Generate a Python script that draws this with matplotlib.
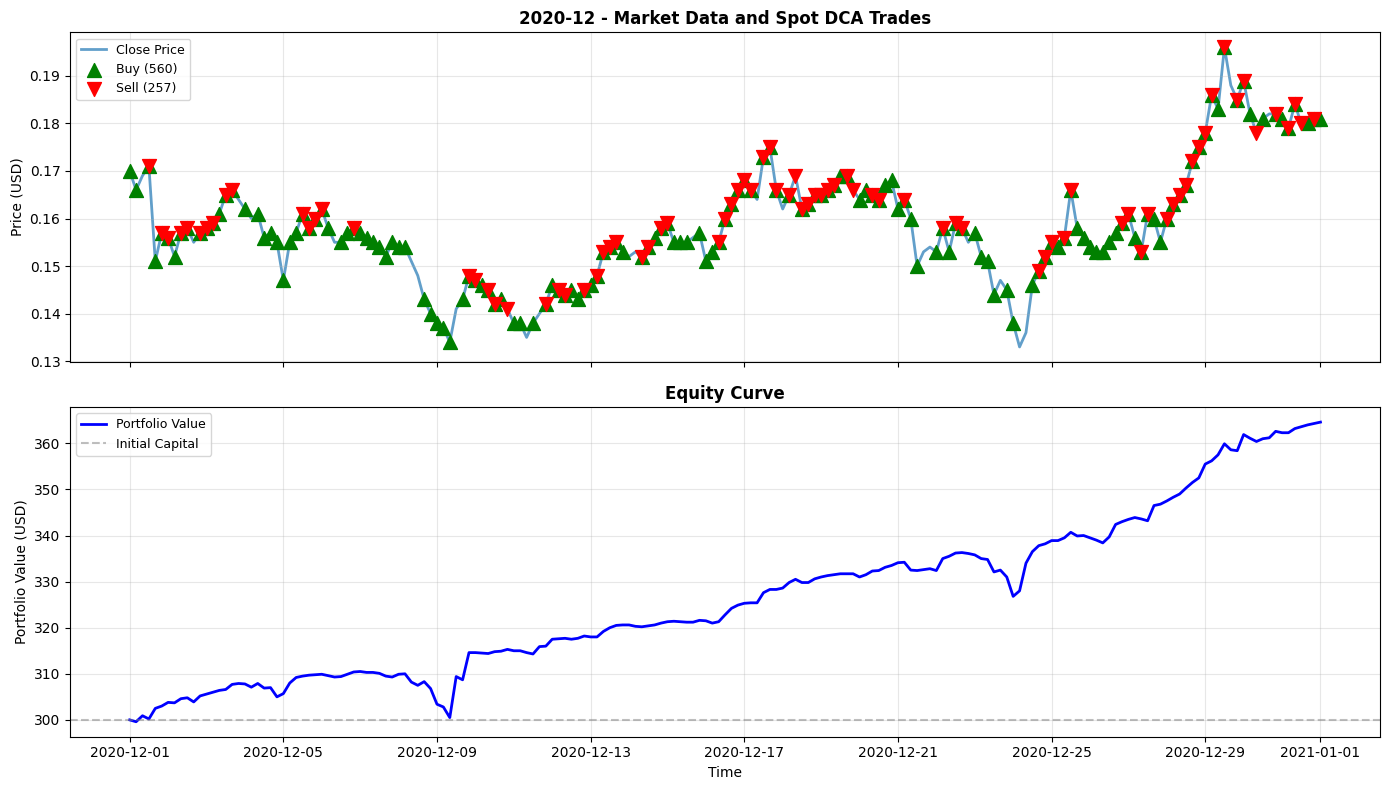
import matplotlib
matplotlib.use("Agg")
import matplotlib.pyplot as plt
import numpy as np
import pandas as pd

# ---- data (4-hourly samples) ----
start = "2020-12-01"
end = "2021-01-01"
freq = "4h"

close_price = [
    0.170, 0.166, 0.169, 0.171, 0.151, 0.157,
    0.156, 0.152, 0.157, 0.158, 0.155, 0.157,
    0.158, 0.159, 0.161, 0.165, 0.166, 0.164,
    0.162, 0.160, 0.161, 0.156, 0.157, 0.155,
    0.147, 0.155, 0.157, 0.161, 0.158, 0.160,
    0.162, 0.158, 0.155, 0.155, 0.157, 0.158,
    0.157, 0.156, 0.155, 0.154, 0.152, 0.155,
    0.154, 0.154, 0.151, 0.148, 0.143, 0.140,
    0.138, 0.137, 0.134, 0.141, 0.143, 0.148,
    0.147, 0.146, 0.145, 0.142, 0.143, 0.141,
    0.138, 0.138, 0.135, 0.138, 0.140, 0.142,
    0.146, 0.145, 0.144, 0.145, 0.143, 0.145,
    0.146, 0.148, 0.153, 0.154, 0.155, 0.153,
    0.152, 0.153, 0.152, 0.154, 0.156, 0.158,
    0.159, 0.155, 0.155, 0.155, 0.156, 0.157,
    0.151, 0.153, 0.155, 0.160, 0.163, 0.166,
    0.168, 0.166, 0.164, 0.173, 0.175, 0.166,
    0.162, 0.165, 0.169, 0.162, 0.163, 0.165,
    0.165, 0.166, 0.167, 0.169, 0.169, 0.166,
    0.164, 0.166, 0.165, 0.164, 0.167, 0.168,
    0.162, 0.164, 0.160, 0.150, 0.153, 0.154,
    0.153, 0.158, 0.153, 0.159, 0.158, 0.155,
    0.157, 0.152, 0.151, 0.144, 0.147, 0.145,
    0.138, 0.133, 0.136, 0.146, 0.149, 0.152,
    0.155, 0.154, 0.156, 0.166, 0.158, 0.156,
    0.154, 0.153, 0.153, 0.155, 0.157, 0.159,
    0.161, 0.156, 0.153, 0.161, 0.160, 0.155,
    0.160, 0.163, 0.165, 0.167, 0.172, 0.175,
    0.178, 0.186, 0.183, 0.196, 0.188, 0.185,
    0.189, 0.182, 0.178, 0.181, 0.182, 0.182,
    0.181, 0.179, 0.184, 0.180, 0.180, 0.181,
    0.181,
]

portfolio_value = [
    300.0, 299.6, 300.9, 300.2, 302.5, 303.0,
    303.8, 303.7, 304.6, 304.8, 303.9, 305.2,
    305.6, 306.0, 306.4, 306.6, 307.7, 307.9,
    307.8, 307.1, 307.9, 306.9, 307.0, 305.0,
    305.7, 308.0, 309.2, 309.5, 309.7, 309.8,
    309.9, 309.6, 309.3, 309.4, 309.9, 310.4,
    310.5, 310.3, 310.3, 310.1, 309.5, 309.3,
    309.9, 310.0, 308.2, 307.5, 308.3, 306.8,
    303.4, 302.8, 300.5, 309.4, 308.7, 314.6,
    314.6, 314.5, 314.4, 314.8, 314.9, 315.3,
    315.0, 315.0, 314.6, 314.3, 315.9, 316.0,
    317.5, 317.6, 317.7, 317.5, 317.7, 318.2,
    318.0, 318.0, 319.2, 320.0, 320.5, 320.6,
    320.6, 320.3, 320.2, 320.4, 320.6, 321.0,
    321.3, 321.4, 321.3, 321.2, 321.2, 321.6,
    321.5, 321.0, 321.3, 322.8, 324.2, 324.9,
    325.3, 325.4, 325.4, 327.6, 328.3, 328.3,
    328.6, 329.8, 330.5, 329.8, 329.8, 330.6,
    331.0, 331.3, 331.5, 331.7, 331.7, 331.7,
    331.0, 331.5, 332.3, 332.4, 333.1, 333.5,
    334.1, 334.2, 332.5, 332.4, 332.6, 332.8,
    332.4, 335.0, 335.5, 336.2, 336.3, 336.1,
    335.8, 335.0, 334.8, 332.1, 332.5, 331.0,
    326.8, 328.0, 334.0, 336.5, 337.8, 338.2,
    338.9, 338.9, 339.5, 340.7, 339.9, 340.0,
    339.5, 339.0, 338.4, 339.7, 342.4, 343.0,
    343.5, 343.9, 343.6, 343.2, 346.5, 346.8,
    347.5, 348.3, 349.0, 350.3, 351.5, 352.5,
    355.5, 356.2, 357.5, 359.9, 358.6, 358.4,
    361.9, 361.1, 360.4, 361.0, 361.2, 362.6,
    362.3, 362.3, 363.2, 363.6, 364.0, 364.3,
    364.6,
]

buy_idx = [0, 1, 3, 4, 5, 6, 7, 8, 9, 11, 12, 13, 14, 15, 16, 18, 20, 21, 22, 23,
           24, 25, 26, 27, 28, 29, 30, 31, 33, 34, 35, 36, 37, 38, 39, 40, 41, 42, 43,
           46, 47, 48, 49, 50, 52, 53, 54, 55, 56, 57, 58, 60, 61, 63, 65, 66, 67,
           68, 69, 70, 71, 72, 73, 74, 75, 76, 77, 80, 81, 82, 83, 84, 85, 86, 87,
           89, 90, 91, 92, 93, 94, 95, 96, 97, 99, 100, 101, 103, 105, 106, 107, 108,
           109, 110, 111, 112, 114, 115, 116, 117, 118, 119, 120, 121, 122, 123,
           126, 127, 128, 129, 130, 132, 133, 134, 135, 137, 138, 141, 142, 143,
           144, 145, 146, 147, 148, 149, 150, 151, 152, 153, 154, 155, 156, 157,
           158, 159, 160, 161, 162, 163, 164, 165, 166, 167, 168, 169, 170, 171,
           173, 174, 175, 177, 179, 180, 181, 182, 184, 185, 186]
sell_idx = [3, 5, 6, 8, 9, 11, 12, 13, 15, 16, 27, 28, 29, 30, 35, 53, 54, 56, 57,
            59, 65, 67, 68, 71, 73, 74, 75, 76, 80, 81, 83, 84, 92, 93, 94, 95, 96,
            97, 99, 100, 101, 103, 104, 105, 106, 107, 108, 109, 110, 112, 113, 116,
            117, 121, 127, 129, 130, 142, 143, 144, 146, 147, 155, 156, 158, 159,
            162, 163, 164, 165, 166, 167, 168, 169, 171, 173, 174, 176, 179, 181,
            182, 183, 185]
buy_count = 560
sell_count = 257
initial_capital = 300

month_label = "2020-12"

# ---- plotting ----
times = pd.date_range(start, end, freq=freq)
price = np.array(close_price)
equity = np.array(portfolio_value)

fig, (ax1, ax2) = plt.subplots(2, 1, figsize=(14, 8), dpi=100, sharex=True)

ax1.plot(times, price, color="#1f77b4", alpha=0.7, linewidth=2, label="Close Price", zorder=1)
ax1.scatter(times[buy_idx], price[buy_idx], marker="^", color="green", s=100,
            label=f"Buy ({buy_count})", zorder=3)
ax1.scatter(times[sell_idx], price[sell_idx], marker="v", color="red", s=100,
            label=f"Sell ({sell_count})", zorder=4)
ax1.set_title(f"{month_label} - Market Data and Spot DCA Trades", fontsize=12, fontweight="bold")
ax1.set_ylabel("Price (USD)")
ax1.legend(loc="upper left", fontsize=9)
ax1.grid(True, alpha=0.3)

ax2.plot(times, equity, color="blue", linewidth=2, label="Portfolio Value")
ax2.axhline(initial_capital, color="gray", linestyle="--", alpha=0.5, label="Initial Capital")
ax2.set_title("Equity Curve", fontsize=12, fontweight="bold")
ax2.set_ylabel("Portfolio Value (USD)")
ax2.set_xlabel("Time")
ax2.legend(loc="upper left", fontsize=9)
ax2.grid(True, alpha=0.3)

fig.tight_layout()
fig.savefig("out.png", dpi=100, bbox_inches="tight")
